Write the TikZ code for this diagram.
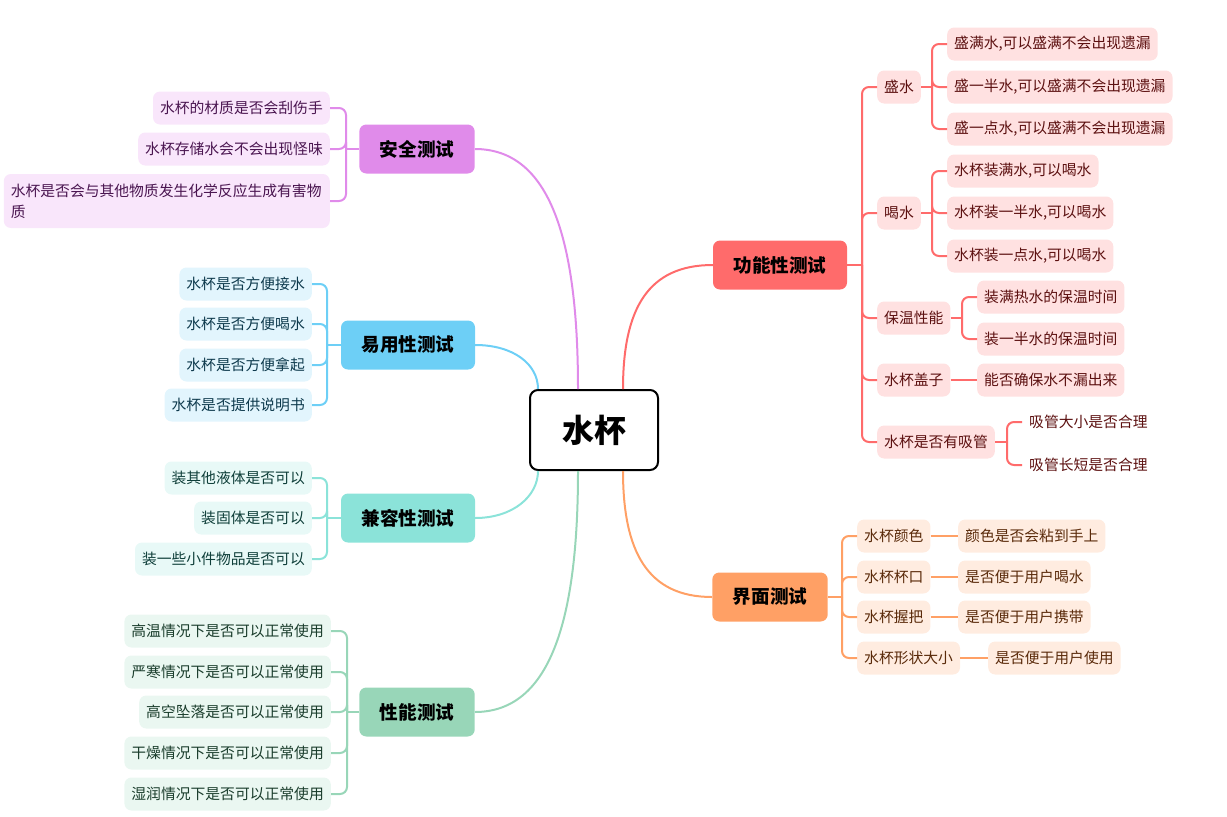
\documentclass[tikz,border=0pt]{standalone}
\usepackage{fontspec}
\newfontfamily\cjk{Noto Sans CJK SC}
\newcommand\subfnt{\cjk\fontsize{14.8}{21}\selectfont}
\newcommand\mainfnt{\cjk\bfseries\fontsize{18.6}{22}\selectfont}
\newcommand\rootfnt{\cjk\bfseries\fontsize{32}{36}\selectfont}
\definecolor{puL}{HTML}{E08BEA}\definecolor{puF}{HTML}{F9E6FB}\definecolor{puT}{HTML}{4A1550}
\definecolor{blL}{HTML}{6DCFF6}\definecolor{blF}{HTML}{E2F5FD}\definecolor{blT}{HTML}{0E3A4D}
\definecolor{tlL}{HTML}{8BE3D9}\definecolor{tlF}{HTML}{E8F9F7}\definecolor{tlT}{HTML}{0F3F3A}
\definecolor{grL}{HTML}{98D6B8}\definecolor{grF}{HTML}{EAF7F1}\definecolor{grT}{HTML}{1A3D2C}
\definecolor{rdL}{HTML}{FF6B6B}\definecolor{rdF}{HTML}{FFE1E1}\definecolor{rdT}{HTML}{5C1010}
\definecolor{orL}{HTML}{FFA065}\definecolor{orF}{HTML}{FFECE0}\definecolor{orT}{HTML}{5A2A0A}
\begin{document}
\begin{tikzpicture}[x=1pt,y=-1pt,
  leaf/.style={rounded corners=7pt, inner xsep=7pt, inner ysep=0pt, minimum height=33pt, font=\subfnt},
  mainb/.style={rounded corners=7pt, inner xsep=20.5pt, inner ysep=0pt, minimum height=49pt, font=\mainfnt, text=black},
  pu/.style={leaf, fill=puF, text=puT}, bl/.style={leaf, fill=blF, text=blT},
  tl/.style={leaf, fill=tlF, text=tlT}, gr/.style={leaf, fill=grF, text=grT},
  rd/.style={leaf, fill=rdF, text=rdT}, or/.style={leaf, fill=orF, text=orT},
  rdn/.style={leaf, text=rdT},
  ln/.style={line width=2pt, rounded corners=7pt, draw=#1},
]
\useasboundingbox (0,0) rectangle (1227,817);

% root
\node[draw=black, line width=2pt, fill=white, rounded corners=8pt, minimum width=128pt, minimum height=80pt, inner sep=0pt, font=\rootfnt] (root) at (594,430) {水杯};

% main branches
\node[mainb, fill=puL] (saf) at (417,149) {安全测试};
\node[mainb, fill=blL] (use) at (408,345) {易用性测试};
\node[mainb, fill=tlL] (com) at (408,518) {兼容性测试};
\node[mainb, fill=grL] (per) at (417,712) {性能测试};
\node[mainb, fill=rdL] (fun) at (780,265) {功能性测试};
\node[mainb, fill=orL] (ui)  at (770,597) {界面测试};

% root connectors
\draw[line width=2pt, draw=puL] (saf.east) .. controls +(75,0) and +(0,-150) .. ([xshift=-16pt]root.north);
\draw[line width=2pt, draw=blL] (use.east) .. controls +(38,0) and +(0,-25) .. ([xshift=-56pt]root.north);
\draw[line width=2pt, draw=tlL] (com.east) .. controls +(38,0) and +(0,25) .. ([xshift=-56pt]root.south);
\draw[line width=2pt, draw=grL] (per.east) .. controls +(75,0) and +(0,150) .. ([xshift=-16pt]root.south);
\draw[line width=2pt, draw=rdL] (fun.west) .. controls +(-65,0) and +(0,-80) .. ([xshift=29pt]root.north);
\draw[line width=2pt, draw=orL] (ui.west) .. controls +(-65,0) and +(0,80) .. ([xshift=29pt]root.south);

% ---- 安全测试
\node[pu, anchor=east] (s1) at (330,108) {水杯的材质是否会刮伤手};
\node[pu, anchor=east] (s2) at (330,149) {水杯存储水会不会出现怪味};
\node[pu, anchor=east, text width=312pt, align=left, minimum height=54pt] (s3) at (330,201) {水杯是否会与其他物质发生化学反应生成有害物\\质};
\coordinate (bs) at (346,149);
\draw[ln=puL] (saf.west) -- (bs);
\foreach \c in {s1,s2,s3} \draw[ln=puL] (bs) |- (\c.east);

% ---- 易用性测试
\node[bl, anchor=east] (u1) at (312,284) {水杯是否方便接水};
\node[bl, anchor=east] (u2) at (312,324) {水杯是否方便喝水};
\node[bl, anchor=east] (u3) at (312,365) {水杯是否方便拿起};
\node[bl, anchor=east] (u4) at (312,405) {水杯是否提供说明书};
\coordinate (bu) at (327,345);
\draw[ln=blL] (use.west) -- (bu);
\foreach \c in {u1,u2,u3,u4} \draw[ln=blL] (bu) |- (\c.east);

% ---- 兼容性测试
\node[tl, anchor=east] (c1) at (312,478) {装其他液体是否可以};
\node[tl, anchor=east] (c2) at (312,518) {装固体是否可以};
\node[tl, anchor=east] (c3) at (312,559) {装一些小件物品是否可以};
\coordinate (bc) at (327,518);
\draw[ln=tlL] (com.west) -- (bc);
\foreach \c in {c1,c2,c3} \draw[ln=tlL] (bc) |- (\c.east);

% ---- 性能测试
\node[gr, anchor=east] (p1) at (331,631) {高温情况下是否可以正常使用};
\node[gr, anchor=east] (p2) at (331,672) {严寒情况下是否可以正常使用};
\node[gr, anchor=east] (p3) at (331,712) {高空坠落是否可以正常使用};
\node[gr, anchor=east] (p4) at (331,753) {干燥情况下是否可以正常使用};
\node[gr, anchor=east] (p5) at (331,794) {湿润情况下是否可以正常使用};
\coordinate (bp) at (347,712);
\draw[ln=grL] (per.west) -- (bp);
\foreach \c in {p1,p2,p3,p4,p5} \draw[ln=grL] (bp) |- (\c.east);

% ---- 功能性测试
\node[rd, anchor=west] (f1) at (877,87) {盛水};
\node[rd, anchor=west] (f2) at (877,213) {喝水};
\node[rd, anchor=west] (f3) at (877,318) {保温性能};
\node[rd, anchor=west] (f4) at (877,380) {水杯盖子};
\node[rd, anchor=west] (f5) at (877,442) {水杯是否有吸管};
\coordinate (bf) at (862,265);
\draw[ln=rdL] (fun.east) -- (bf);
\foreach \c in {f1,f2,f3,f4,f5} \draw[ln=rdL] (bf) |- (\c.west);

\node[rd, anchor=west] (f11) at (947,44) {盛满水,可以盛满不会出现遗漏};
\node[rd, anchor=west] (f12) at (947,87) {盛一半水,可以盛满不会出现遗漏};
\node[rd, anchor=west] (f13) at (947,129) {盛一点水,可以盛满不会出现遗漏};
\coordinate (bf1) at (932,87);
\draw[ln=rdL] (f1.east) -- (bf1);
\foreach \c in {f11,f12,f13} \draw[ln=rdL] (bf1) |- (\c.west);

\node[rd, anchor=west] (f21) at (947,171) {水杯装满水,可以喝水};
\node[rd, anchor=west] (f22) at (947,213) {水杯装一半水,可以喝水};
\node[rd, anchor=west] (f23) at (947,256) {水杯装一点水,可以喝水};
\coordinate (bf2) at (932,213);
\draw[ln=rdL] (f2.east) -- (bf2);
\foreach \c in {f21,f22,f23} \draw[ln=rdL] (bf2) |- (\c.west);

\node[rd, anchor=west] (f31) at (977,297) {装满热水的保温时间};
\node[rd, anchor=west] (f32) at (977,339) {装一半水的保温时间};
\coordinate (bf3) at (962,318);
\draw[ln=rdL] (f3.east) -- (bf3);
\foreach \c in {f31,f32} \draw[ln=rdL] (bf3) |- (\c.west);

\node[rd, anchor=west] (f41) at (977,380) {能否确保水不漏出来};
\draw[ln=rdL] (f4.east) -- (f41.west);

\node[rdn, anchor=west] (f51) at (1022,422) {吸管大小是否合理};
\node[rdn, anchor=west] (f52) at (1022,465) {吸管长短是否合理};
\coordinate (bf5) at (1007,442);
\draw[ln=rdL] (f5.east) -- (bf5);
\foreach \c in {f51,f52} \draw[ln=rdL] (bf5) |- (\c.west);

% ---- 界面测试
\node[or, anchor=west] (i1) at (857,536) {水杯颜色};
\node[or, anchor=west] (i2) at (857,577) {水杯杯口};
\node[or, anchor=west] (i3) at (857,617) {水杯握把};
\node[or, anchor=west] (i4) at (857,658) {水杯形状大小};
\coordinate (bi) at (842,597);
\draw[ln=orL] (ui.east) -- (bi);
\foreach \c in {i1,i2,i3,i4} \draw[ln=orL] (bi) |- (\c.west);

\node[or, anchor=west] (i11) at (958,536) {颜色是否会粘到手上};
\node[or, anchor=west] (i21) at (958,577) {是否便于用户喝水};
\node[or, anchor=west] (i31) at (958,617) {是否便于用户携带};
\node[or, anchor=west] (i41) at (988,658) {是否便于用户使用};
\draw[ln=orL] (i1.east) -- (i11.west);
\draw[ln=orL] (i2.east) -- (i21.west);
\draw[ln=orL] (i3.east) -- (i31.west);
\draw[ln=orL] (i4.east) -- (i41.west);
\end{tikzpicture}
\end{document}
